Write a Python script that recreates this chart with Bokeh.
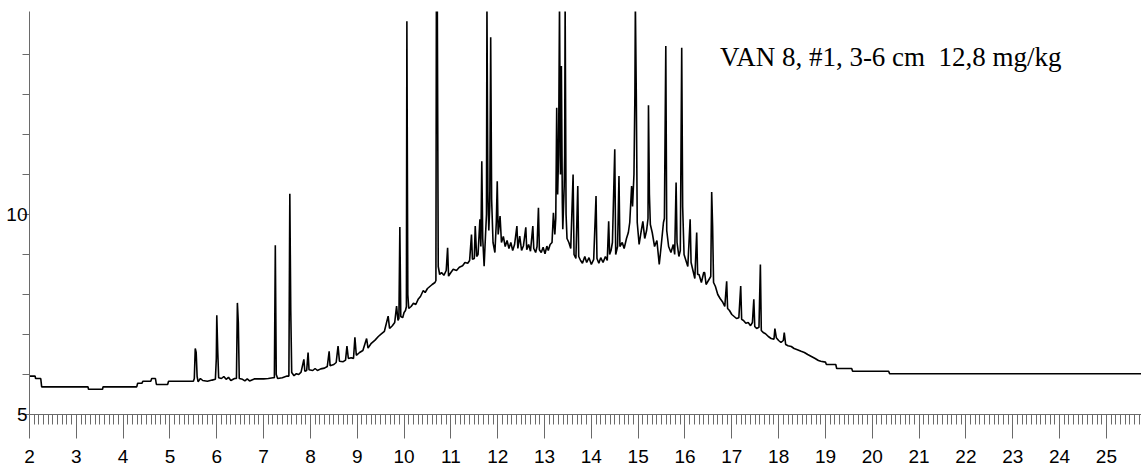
from bokeh.plotting import figure
from bokeh.models import FixedTicker, LinearAxis, Label, Range1d
from bokeh.embed import file_html
from bokeh.resources import INLINE

# retention time (min) and detector signal
ret_time = [
    2.00, 2.12, 2.13, 2.24, 2.26, 3.25, 3.26, 3.56, 3.57, 4.29, 4.31, 4.40, 4.42, 4.59, 4.61, 4.69, 4.71, 4.95, 4.97, 5.50,
    5.52, 5.54, 5.56, 5.58, 5.60, 5.65, 5.70, 5.80, 5.90,
    5.97, 5.99, 6.00, 6.02, 6.04, 6.10, 6.15, 6.20, 6.25, 6.30, 6.38,
    6.42, 6.44, 6.46, 6.48, 6.55, 6.60, 6.65, 6.70, 6.80, 6.90, 7.00, 7.10, 7.20,
    7.23, 7.25, 7.27, 7.30, 7.40, 7.50,
    7.54, 7.56, 7.58, 7.60, 7.65, 7.70,
    7.75, 7.80, 7.86, 7.88, 7.92, 7.95, 7.97, 8.05, 8.10, 8.15, 8.22, 8.30, 8.36, 8.40, 8.42,
    8.50, 8.55, 8.59, 8.62, 8.70, 8.75, 8.78, 8.81, 8.87, 8.92, 8.95, 8.98, 9.05, 9.12, 9.20, 9.23,
    9.30, 9.38, 9.45, 9.52, 9.58, 9.66, 9.69, 9.75, 9.80, 9.84, 9.87,
    9.89, 9.91, 9.93, 9.97, 10.00, 10.03,
    10.05, 10.06, 10.08, 10.10, 10.15, 10.20, 10.25, 10.30, 10.35, 10.41, 10.45, 10.50, 10.55, 10.60, 10.66,
    10.68, 10.69, 10.71, 10.73, 10.76, 10.80, 10.85, 10.90, 10.93, 10.95, 11.00, 11.05, 11.12, 11.18, 11.25,
    11.30, 11.36, 11.40, 11.44, 11.46, 11.50, 11.52, 11.55, 11.58, 11.62, 11.64, 11.66, 11.68, 11.71, 11.74,
    11.76, 11.77, 11.79, 11.81, 11.83, 11.85, 11.87, 11.90, 11.94, 11.97, 11.99, 12.01, 12.05, 12.08, 12.12,
    12.16, 12.20, 12.24, 12.28, 12.32, 12.36, 12.41, 12.43, 12.47, 12.51, 12.55, 12.60, 12.62, 12.66, 12.70,
    12.75, 12.77, 12.81, 12.84, 12.87, 12.89, 12.93, 12.97, 13.01, 13.05, 13.08, 13.12, 13.16, 13.19, 13.22,
    13.24, 13.26, 13.28, 13.30, 13.32, 13.34, 13.36, 13.38, 13.39, 13.42, 13.43, 13.44, 13.46, 13.48, 13.52,
    13.56, 13.61, 13.63, 13.67, 13.71, 13.73, 13.77, 13.81, 13.86, 13.90, 13.95, 14.00, 14.05, 14.10, 14.12,
    14.16, 14.20, 14.25, 14.30, 14.34, 14.37, 14.39, 14.42, 14.45, 14.50, 14.52, 14.56, 14.59, 14.61, 14.66,
    14.70, 14.75, 14.79, 14.82, 14.86, 14.88, 14.91, 14.93, 14.94, 14.96, 14.98, 15.02, 15.06, 15.10, 15.14,
    15.18, 15.21, 15.22, 15.24, 15.26, 15.30, 15.35, 15.40, 15.45, 15.49, 15.54, 15.56, 15.59, 15.61, 15.65,
    15.70, 15.75, 15.78, 15.81, 15.83, 15.87, 15.90, 15.93, 15.95, 15.98, 16.02, 16.06, 16.11, 16.13, 16.17,
    16.21, 16.25, 16.27, 16.30, 16.35, 16.40, 16.42, 16.45, 16.50, 16.55, 16.57, 16.59, 16.61, 16.65, 16.70,
    16.75, 16.80, 16.85, 16.89, 16.91, 16.95, 17.00, 17.05, 17.10, 17.15, 17.19, 17.21, 17.25, 17.30, 17.35,
    17.40, 17.44, 17.47, 17.49, 17.53, 17.58, 17.61, 17.63, 17.67, 17.72, 17.78, 17.84, 17.90, 17.92, 17.95,
    18.00, 18.05, 18.10, 18.12, 18.15, 18.20, 18.27, 18.33, 18.40, 18.48, 18.55, 18.62, 18.70, 18.78, 18.85,
    18.90, 19.00, 19.02, 19.22, 19.24, 19.56, 19.58, 20.35, 20.37, 25.78,
]
signal = [
    5.96, 5.96, 5.90, 5.90, 5.69, 5.69, 5.63, 5.63, 5.69, 5.69, 5.78, 5.78, 5.83, 5.83, 5.90, 5.90, 5.75, 5.75, 5.83, 5.83,
    5.90, 6.65, 6.55, 5.95, 5.82, 5.90, 5.85, 5.83, 5.86,
    5.88, 6.40, 7.48, 6.60, 5.92, 5.90, 5.95, 5.88, 5.93, 5.85, 5.90,
    5.90, 7.79, 7.30, 5.90, 5.88, 5.84, 5.89, 5.84, 5.89, 5.89, 5.89, 5.90, 5.92,
    5.92, 9.23, 6.00, 5.90, 5.92, 5.96,
    5.96, 10.52, 7.60, 6.05, 5.97, 6.02,
    6.00, 6.06, 6.38, 6.08, 6.10, 6.55, 6.12, 6.10, 6.15, 6.10, 6.14, 6.16, 6.20, 6.58, 6.22,
    6.25, 6.30, 6.71, 6.33, 6.32, 6.36, 6.71, 6.40, 6.42, 6.40, 6.93, 6.48, 6.55, 6.60, 6.90, 6.66,
    6.78, 6.86, 6.95, 7.02, 7.08, 7.46, 7.15, 7.22, 7.30, 7.71, 7.35,
    7.40, 9.69, 7.45, 7.42, 7.55, 7.60,
    7.70, 14.83, 8.00, 7.65, 7.70, 7.78, 7.75, 7.88, 7.95, 8.10, 8.05, 8.15, 8.20, 8.25, 8.30,
    8.35, 15.30, 15.30, 8.70, 8.50, 8.55, 8.48, 8.60, 9.17, 8.46, 8.55, 8.63, 8.60, 8.68, 8.72,
    8.80, 8.78, 8.85, 9.50, 8.88, 8.90, 9.71, 8.95, 9.00, 9.88, 9.20, 11.33, 9.40, 8.71, 9.50,
    10.00, 15.30, 10.55, 9.60, 10.20, 14.43, 10.38, 9.30, 9.05, 9.80, 10.83, 9.50, 9.96, 9.30, 9.45,
    9.20, 9.35, 9.15, 9.30, 9.10, 9.25, 9.71, 9.15, 9.46, 9.10, 9.22, 9.68, 9.12, 9.25, 9.08,
    9.71, 9.15, 9.05, 9.20, 10.17, 9.12, 9.05, 9.18, 9.02, 9.21, 9.10, 9.25, 9.30, 10.04, 9.50,
    9.90, 12.67, 10.50, 11.50, 15.30, 11.00, 13.71, 10.30, 9.63, 10.71, 11.50, 15.30, 10.00, 9.40, 9.30,
    9.15, 11.00, 9.00, 8.90, 10.71, 8.95, 8.85, 8.78, 8.95, 8.80, 8.92, 8.75, 8.88, 10.46, 8.90,
    8.78, 8.92, 8.80, 8.95, 8.85, 9.83, 9.00, 9.10, 9.30, 11.63, 9.00, 9.20, 10.96, 9.20, 9.30,
    9.15, 9.40, 9.55, 9.80, 10.71, 10.20, 11.00, 13.00, 15.30, 13.00, 9.80, 9.25, 9.55, 9.83, 9.40,
    9.60, 9.90, 12.73, 10.50, 9.75, 9.55, 9.20, 9.35, 8.75, 9.20, 9.80, 9.90, 14.21, 9.60, 9.20,
    9.05, 9.25, 9.00, 10.80, 9.30, 8.95, 9.10, 14.17, 10.20, 9.00, 8.85, 8.70, 9.88, 8.80, 8.60,
    8.40, 9.55, 8.50, 8.50, 8.30, 8.55, 8.55, 8.25, 8.35, 8.45, 10.56, 9.70, 8.30, 8.20, 8.00,
    7.90, 7.82, 7.70, 8.33, 7.65, 7.60, 7.50, 7.45, 7.40, 7.42, 8.21, 7.38, 7.35, 7.28, 7.30,
    7.22, 7.30, 7.88, 7.20, 7.15, 7.18, 8.75, 7.10, 7.05, 7.02, 6.95, 6.90, 6.88, 7.15, 6.92,
    6.85, 6.80, 6.85, 7.05, 6.75, 6.72, 6.70, 6.65, 6.62, 6.58, 6.55, 6.50, 6.45, 6.40, 6.35,
    6.33, 6.31, 6.25, 6.25, 6.15, 6.15, 6.08, 6.08, 6.02, 6.02,
]

x_major = list(range(2, 26))
x_minor = [round(2 + 0.1 * i, 1) for i in range(0, 238)]
y_ticks = list(range(5, 15))
y_labels = {5: "5", 10: "10"}

axis_col = "#6a6a6a"
Y0, Y1 = 5.0, 15.075

p = figure(frame_width=1112, frame_height=403, output_backend="svg", toolbar_location=None,
           x_range=Range1d(2, 25.75), y_range=Range1d(Y0, Y1),
           min_border_left=29, min_border_right=0, min_border_top=11, min_border_bottom=0,
           x_axis_type=None, y_axis_type=None)
p.grid.visible = False
p.outline_line_color = None
p.background_fill_color = "white"
p.border_fill_color = "white"

xa = LinearAxis(ticker=FixedTicker(ticks=x_major, minor_ticks=x_minor))
xa.axis_line_color = axis_col
xa.major_tick_line_color = axis_col
xa.minor_tick_line_color = axis_col
xa.major_tick_out = 24
xa.major_tick_in = 0
xa.minor_tick_out = 10
xa.minor_tick_in = 0
xa.major_label_standoff = 11
xa.major_label_text_font = "Liberation Sans"
xa.major_label_text_font_size = "19px"
xa.major_label_text_color = "black"
p.add_layout(xa, "below")

ya = LinearAxis(ticker=FixedTicker(ticks=y_ticks))
ya.axis_line_color = axis_col
ya.major_tick_line_color = axis_col
ya.major_tick_out = 7
ya.major_tick_in = 0
ya.minor_tick_line_color = None
ya.major_label_standoff = -5
ya.major_label_overrides = {t: y_labels.get(t, "") for t in y_ticks}
ya.major_label_text_font = "Liberation Sans"
ya.major_label_text_font_size = "19px"
ya.major_label_text_color = "black"
p.add_layout(ya, "left")

p.line(ret_time, signal, line_color="black", line_width=1.6)

p.add_layout(Label(x=16.75, y=13.95, text="VAN 8, #1, 3-6 cm\u00a0\u00a012,8 mg/kg",
                   text_font="Liberation Serif", text_font_size="27px",
                   text_color="black", text_align="left", text_baseline="alphabetic"))

open("out.html", "w").write(file_html(p, INLINE))
